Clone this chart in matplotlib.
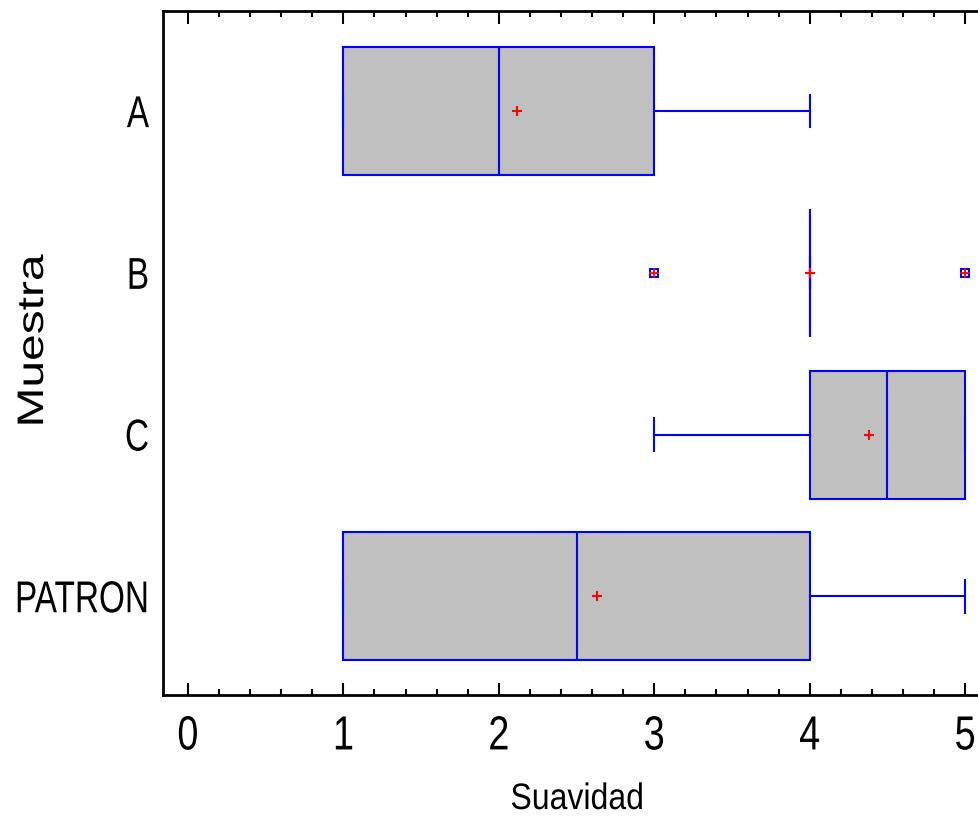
import matplotlib
matplotlib.use("Agg")
import matplotlib.pyplot as plt
from matplotlib import patheffects
from matplotlib.transforms import Affine2D
from matplotlib.ticker import MultipleLocator

# values
muestras = ["A", "B", "C", "PATRON"]
q1 = [1, 4, 4, 1]
mediana = [2, 4, 4.5, 2.5]
q3 = [3, 4, 5, 4]
bigote_min = [1, 4, 3, 1]
bigote_max = [4, 4, 5, 5]
medias = [2.12, 4.0, 4.38, 2.63]
atipicos = [[], [3, 5], [], []]


class Squeeze(patheffects.AbstractPathEffect):
    """Scale glyphs (narrow font look) around a point of the ink box."""

    def __init__(self, sx=1.0, sy=1.0, anchor="center", vcenter=False):
        super().__init__()
        self.sx, self.sy, self.anchor, self.vcenter = sx, sy, anchor, vcenter

    def draw_path(self, renderer, gc, tpath, affine, rgbFace=None):
        ext = tpath.get_extents()
        if self.anchor == "right":
            cx = ext.x1
        elif self.anchor == "left":
            cx = ext.x0
        else:
            cx = (ext.x0 + ext.x1) / 2
        cy = (ext.y0 + ext.y1) / 2 if self.vcenter else 0
        t = (Affine2D().translate(-cx, -cy).scale(self.sx, self.sy)
             .translate(cx, cy) + affine)
        renderer.draw_path(gc, tpath, t, rgbFace)


def main():
    plt.rcParams["font.family"] = ["Liberation Sans", "DejaVu Sans"]

    fig = plt.figure(figsize=(9.79, 8.21), dpi=100)
    # axes runs a bit past the right edge like the original
    ax = fig.add_axes([163 / 979, 126 / 821, 841 / 979, 684 / 821])

    stats = []
    for i, name in enumerate(muestras):
        stats.append({
            "label": name,
            "q1": q1[i], "med": mediana[i], "q3": q3[i],
            "whislo": bigote_min[i], "whishi": bigote_max[i],
            "mean": medias[i], "fliers": atipicos[i],
        })

    blue = "#0000ff"
    pos = list(range(len(muestras)))
    ax.bxp(stats, positions=pos, orientation="horizontal", widths=0.79,
           capwidths=0.2, patch_artist=True, showmeans=True,
           boxprops=dict(facecolor="#c0c0c0", edgecolor=blue, linewidth=1.5),
           medianprops=dict(color=blue, linewidth=1.5),
           whiskerprops=dict(color=blue, linewidth=1.5),
           capprops=dict(color=blue, linewidth=1.5),
           meanprops=dict(marker="+", markeredgecolor="red", markersize=7,
                          markeredgewidth=1.5),
           flierprops=dict(marker="s", markerfacecolor="none",
                           markeredgecolor=blue, markersize=6,
                           markeredgewidth=1.5))

    for i, vals in enumerate(atipicos):
        if vals:
            ax.plot(vals, [pos[i]] * len(vals), linestyle="none", marker="+",
                    color="red", markersize=7.5, markeredgewidth=1.3, zorder=5)

    ax.set_xlim(-0.16, 5.25)
    ax.set_ylim(3.61, -0.62)
    ax.set_yticks(pos)
    ax.set_yticklabels(muestras)
    ax.xaxis.set_major_locator(MultipleLocator(1))
    ax.xaxis.set_minor_locator(MultipleLocator(0.2))
    ax.tick_params(axis="x", which="both", direction="in", top=True,
                   width=1.5, labelsize=34.5, pad=14)
    ax.tick_params(axis="x", which="major", length=9)
    ax.tick_params(axis="x", which="minor", length=4.5)
    ax.tick_params(axis="y", length=0, labelsize=24, pad=10)

    for s in ax.spines.values():
        s.set_linewidth(2)

    ax.set_xlabel("Suavidad", fontsize=26.5)
    ax.xaxis.set_label_coords((577 - 163) / 841, -(809 - 695) / 684)
    ax.xaxis.label.set_verticalalignment("baseline")
    ax.xaxis.label.set_path_effects([Squeeze(sx=0.87)])

    ax.set_ylabel("Muestra", fontsize=34.5)
    ax.yaxis.set_label_coords((43 - 163) / 841, (695 - 341) / 684)
    ax.yaxis.label.set_verticalalignment("baseline")
    ax.yaxis.label.set_path_effects([Squeeze(sy=0.77)])

    fig.canvas.draw()
    for lbl in ax.get_xticklabels():
        lbl.set_path_effects([Squeeze(sx=0.79)])
    for lbl in ax.get_yticklabels():
        lbl.set_path_effects([Squeeze(sy=1.34, anchor="right", vcenter=True)])

    fig.savefig("out.png", dpi=100)


if __name__ == "__main__":
    main()
